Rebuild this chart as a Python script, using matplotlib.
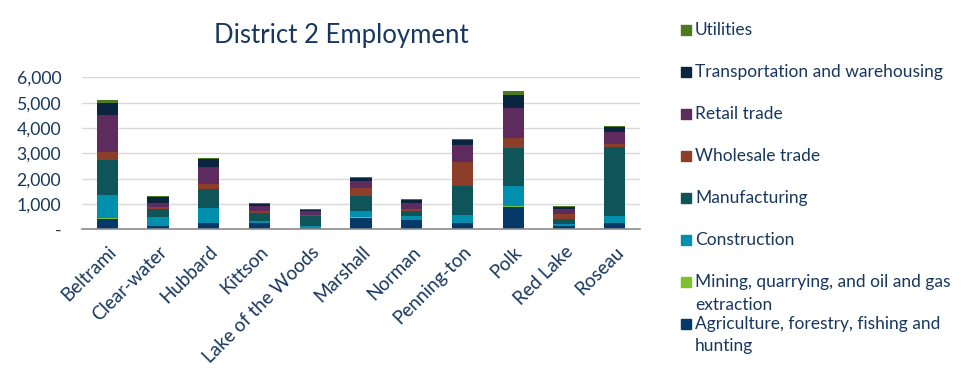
import matplotlib
matplotlib.use("Agg")
import matplotlib.pyplot as plt
import numpy as np

counties = ["Beltrami", "Clear-water", "Hubbard", "Kittson", "Lake of the Woods",
            "Marshall", "Norman", "Penning-ton", "Polk", "Red Lake", "Roseau"]

agriculture   = [410, 130, 250, 250, 50, 450, 370, 250, 880, 130, 250]
mining        = [50, 10, 10, 5, 5, 50, 10, 5, 40, 5, 5]
construction  = [900, 355, 590, 80, 80, 225, 160, 315, 790, 80, 275]
manufacturing = [1380, 315, 737, 300, 395, 590, 200, 1145, 1500, 200, 2710]
wholesale     = [315, 80, 210, 90, 15, 315, 80, 950, 395, 200, 130]
retail        = [1460, 160, 670, 200, 185, 275, 225, 670, 1185, 200, 475]
transport     = [475, 210, 290, 80, 40, 120, 130, 200, 513, 80, 200]
utilities     = [120, 40, 40, 40, 40, 40, 40, 40, 160, 40, 40]

series_labels = ["Agriculture, forestry, fishing and\nhunting",
                 "Mining, quarrying, and oil and gas\nextraction",
                 "Construction", "Manufacturing", "Wholesale trade",
                 "Retail trade", "Transportation and warehousing", "Utilities"]
series_values = [agriculture, mining, construction, manufacturing,
                 wholesale, retail, transport, utilities]
colors = ["#04396A", "#7DC12C", "#0090AE", "#0F5458", "#8C3E2B",
          "#5E2B5E", "#0A2540", "#4D7A1E"]

text_color = "#17375E"
font = "Lato"

fig = plt.figure(figsize=(9.75, 3.72), dpi=100)
ax = fig.add_axes([82/975, 1-229.3/372, (640-82)/975, (229.3-77.3)/372])

x = np.arange(len(counties))
bottom = np.zeros(len(counties))
for vals, col in zip(series_values, colors):
    ax.bar(x, vals, width=0.42, bottom=bottom, color=col, zorder=3)
    bottom += np.array(vals)

ax.set_xlim(-0.5, len(counties) - 0.5)
ax.set_ylim(0, 6000)
ax.set_yticks(range(0, 6001, 1000))
ax.set_yticklabels(["-" if v == 0 else f"{v:,}" for v in range(0, 6001, 1000)],
                   fontsize=12.7, color=text_color, family=font)
ax.set_xticks(x)
ax.set_xticklabels(counties, rotation=45, ha="right", rotation_mode="anchor",
                   fontsize=13.5, color=text_color, family=font)
ax.tick_params(axis="both", length=0)
ax.tick_params(axis="x", pad=10)
ax.tick_params(axis="y", pad=15)
ax.grid(axis="y", color="#D9D9D9", linewidth=1, zorder=0)
for s in ["top", "right", "left"]:
    ax.spines[s].set_visible(False)
ax.spines["bottom"].set_color("#8C8C8C")
ax.spines["bottom"].set_linewidth(1.2)
ax.spines["bottom"].set_zorder(4)

fig.text(341/975, 1-36/372, "District 2 Employment", ha="center", va="center",
         fontsize=18.5, color=text_color, family=font)

# legend (top to bottom: reversed series order)
for i, (lab, col) in enumerate(zip(series_labels[::-1], colors[::-1])):
    ypix = 30 + 42 * i
    fig.patches.append(plt.Rectangle((681/975, 1-(ypix+5)/372), 10/975, 10/372,
                                     transform=fig.transFigure, color=col))
    for j, line in enumerate(lab.split("\n")):
        fig.text(695/975, 1-(ypix + 22.5*j)/372, line, ha="left", va="center",
                 fontsize=12.5, color=text_color, family=font)

fig.savefig("out.png", dpi=100)
